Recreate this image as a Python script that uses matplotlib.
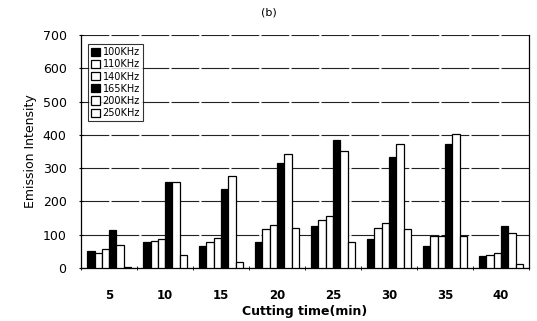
import matplotlib
matplotlib.use("Agg")
import matplotlib.pyplot as plt
import numpy as np

cutting_times = [5, 10, 15, 20, 25, 30, 35, 40]
series_labels = ["100KHz", "110KHz", "140KHz", "165KHz", "200KHz", "250KHz"]
khz100 = [50, 78, 67, 77, 126, 86, 67, 36]
khz110 = [45, 82, 79, 118, 145, 120, 96, 39]
khz140 = [57, 86, 89, 128, 157, 136, 96, 46]
khz165 = [115, 258, 238, 315, 385, 335, 374, 127]
khz200 = [70, 257, 276, 343, 353, 372, 403, 105]
khz250 = [3, 38, 17, 120, 77, 118, 95, 11]
series = [khz100, khz110, khz140, khz165, khz200, khz250]
fills = ["black", "white", "white", "black", "white", "white"]
y_ticks = [0, 100, 200, 300, 400, 500, 600, 700]

fig = plt.figure(figsize=(5.37, 3.21), dpi=100)
ax = fig.add_axes([0.151, 0.165, 0.834, 0.726])

n = len(series)
w = 0.13
x = np.arange(len(cutting_times))
for i, (vals, fc) in enumerate(zip(series, fills)):
    ax.bar(x + (i - (n - 1) / 2) * w, vals, width=w, color=fc,
           edgecolor="black", linewidth=0.9, label=series_labels[i], zorder=3)

ax.set_xlim(-0.5, len(cutting_times) - 0.5)
ax.set_ylim(0, 700)
ax.set_yticks(y_ticks)
ax.set_yticklabels([str(v) for v in y_ticks], fontsize=9)
ax.yaxis.grid(True, color="#222222", linewidth=0.8, linestyle=(0, (25, 2)), zorder=0)
ax.set_xticks(x)
ax.set_xticklabels([str(t) for t in cutting_times], fontsize=8.5, fontweight="bold")
ax.tick_params(axis="x", length=0, pad=15)
ax.set_xticks(np.arange(-0.5, len(cutting_times) + 0.5, 1), minor=True)
ax.tick_params(axis="x", which="minor", length=3, direction="inout")
ax.tick_params(axis="y", length=3, direction="inout", pad=9)

for s in ["left", "right", "bottom"]:
    ax.spines[s].set_color("black")
    ax.spines[s].set_linewidth(0.9)
ax.spines["top"].set_visible(False)

ax.set_xlabel("Cutting time(min)", fontsize=9, fontweight="bold", labelpad=2)
ax.set_ylabel("Emission Intensity", fontsize=9, labelpad=4)
fig.text(0.5, 0.962, "(b)", ha="center", va="center", fontsize=8)

leg = ax.legend(loc="upper left", bbox_to_anchor=(0.01, 0.97), fontsize=7,
                frameon=True, fancybox=False, edgecolor="black",
                handlelength=0.9, handleheight=0.9, handletextpad=0.3,
                labelspacing=0.22, borderpad=0.35, borderaxespad=0.2)
leg.get_frame().set_linewidth(0.8)

fig.savefig("out.png", dpi=100)
